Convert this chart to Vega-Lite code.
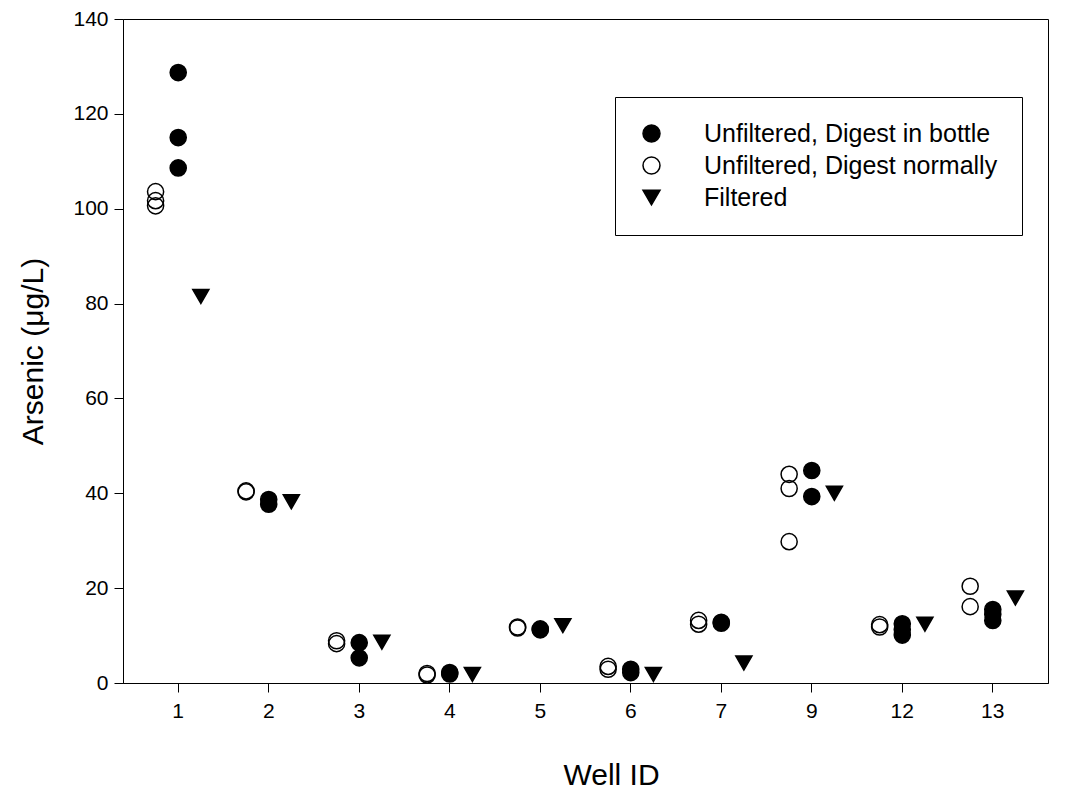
{
  "$schema": "https://vega.github.io/schema/vega-lite/v6.json",
  "autosize": {"type": "none"},
  "width": 925,
  "height": 664,
  "padding": {"left": 123, "top": 19, "right": 27, "bottom": 110},
  "background": "white",
  "config": {
    "font": "Liberation Sans",
    "view": {"stroke": "black", "strokeWidth": 1},
    "axis": {
      "grid": false,
      "domainColor": "black",
      "tickColor": "black",
      "labelColor": "black",
      "titleColor": "black",
      "labelFont": "Liberation Sans",
      "titleFont": "Liberation Sans",
      "labelFontSize": 21,
      "titleFontSize": 30,
      "titleFontWeight": "normal",
      "tickSize": 9
    },
    "legend": {
      "labelFont": "Liberation Sans",
      "labelFontSize": 25,
      "labelColor": "black"
    }
  },
  "data": {
    "values": [
      {"well": "1", "series": "Unfiltered, Digest in bottle", "value": 128.7},
      {"well": "1", "series": "Unfiltered, Digest in bottle", "value": 115.0},
      {"well": "1", "series": "Unfiltered, Digest in bottle", "value": 108.6},
      {"well": "1", "series": "Unfiltered, Digest normally", "value": 103.6},
      {"well": "1", "series": "Unfiltered, Digest normally", "value": 101.7},
      {"well": "1", "series": "Unfiltered, Digest normally", "value": 100.6},
      {"well": "1", "series": "Filtered", "value": 81.5},
      {"well": "2", "series": "Unfiltered, Digest normally", "value": 40.5},
      {"well": "2", "series": "Unfiltered, Digest normally", "value": 40.3},
      {"well": "2", "series": "Unfiltered, Digest in bottle", "value": 38.7},
      {"well": "2", "series": "Unfiltered, Digest in bottle", "value": 37.7},
      {"well": "2", "series": "Filtered", "value": 38.2},
      {"well": "3", "series": "Unfiltered, Digest normally", "value": 8.9},
      {"well": "3", "series": "Unfiltered, Digest normally", "value": 8.3},
      {"well": "3", "series": "Unfiltered, Digest in bottle", "value": 8.5},
      {"well": "3", "series": "Unfiltered, Digest in bottle", "value": 5.3},
      {"well": "3", "series": "Filtered", "value": 8.6},
      {"well": "4", "series": "Unfiltered, Digest normally", "value": 2.0},
      {"well": "4", "series": "Unfiltered, Digest normally", "value": 1.7},
      {"well": "4", "series": "Unfiltered, Digest in bottle", "value": 2.2},
      {"well": "4", "series": "Unfiltered, Digest in bottle", "value": 1.9},
      {"well": "4", "series": "Filtered", "value": 1.8},
      {"well": "5", "series": "Unfiltered, Digest normally", "value": 11.8},
      {"well": "5", "series": "Unfiltered, Digest normally", "value": 11.6},
      {"well": "5", "series": "Unfiltered, Digest in bottle", "value": 11.2},
      {"well": "5", "series": "Unfiltered, Digest in bottle", "value": 11.4},
      {"well": "5", "series": "Filtered", "value": 12.1},
      {"well": "6", "series": "Unfiltered, Digest normally", "value": 3.5},
      {"well": "6", "series": "Unfiltered, Digest normally", "value": 2.9},
      {"well": "6", "series": "Unfiltered, Digest in bottle", "value": 2.9},
      {"well": "6", "series": "Unfiltered, Digest in bottle", "value": 2.2},
      {"well": "6", "series": "Filtered", "value": 1.8},
      {"well": "7", "series": "Unfiltered, Digest normally", "value": 13.2},
      {"well": "7", "series": "Unfiltered, Digest normally", "value": 12.4},
      {"well": "7", "series": "Unfiltered, Digest in bottle", "value": 12.8},
      {"well": "7", "series": "Unfiltered, Digest in bottle", "value": 12.6},
      {"well": "7", "series": "Filtered", "value": 4.2},
      {"well": "9", "series": "Unfiltered, Digest normally", "value": 44.0},
      {"well": "9", "series": "Unfiltered, Digest normally", "value": 41.0},
      {"well": "9", "series": "Unfiltered, Digest normally", "value": 29.8},
      {"well": "9", "series": "Unfiltered, Digest in bottle", "value": 44.8},
      {"well": "9", "series": "Unfiltered, Digest in bottle", "value": 39.3},
      {"well": "9", "series": "Filtered", "value": 40.0},
      {"well": "12", "series": "Unfiltered, Digest normally", "value": 12.3},
      {"well": "12", "series": "Unfiltered, Digest normally", "value": 11.8},
      {"well": "12", "series": "Unfiltered, Digest in bottle", "value": 12.5},
      {"well": "12", "series": "Unfiltered, Digest in bottle", "value": 11.3},
      {"well": "12", "series": "Unfiltered, Digest in bottle", "value": 10.1},
      {"well": "12", "series": "Filtered", "value": 12.4},
      {"well": "13", "series": "Unfiltered, Digest normally", "value": 20.4},
      {"well": "13", "series": "Unfiltered, Digest normally", "value": 16.1},
      {"well": "13", "series": "Unfiltered, Digest in bottle", "value": 15.5},
      {"well": "13", "series": "Unfiltered, Digest in bottle", "value": 14.5},
      {"well": "13", "series": "Unfiltered, Digest in bottle", "value": 13.2},
      {"well": "13", "series": "Filtered", "value": 17.9}
    ]
  },
  "mark": {"type": "point", "filled": false, "strokeWidth": 1.5, "opacity": 1, "size": 260},
  "encoding": {
    "x": {
      "field": "well",
      "type": "nominal",
      "scale": {"type": "band", "domain": ["1", "2", "3", "4", "5", "6", "7", "9", "12", "13"], "paddingInner": 0, "paddingOuter": 0.11},
      "axis": {"title": "Well ID", "labelAngle": 0, "labelPadding": 8, "titlePadding": 39, "titleX": 488}
    },
    "xOffset": {
      "field": "series",
      "type": "nominal",
      "scale": {"domain": ["Unfiltered, Digest normally", "Unfiltered, Digest in bottle", "Filtered"], "paddingInner": 0, "paddingOuter": 1.14}
    },
    "y": {
      "field": "value",
      "type": "quantitative",
      "scale": {"domain": [0, 140], "nice": false, "zero": true},
      "axis": {"title": "Arsenic (μg/L)", "values": [0, 20, 40, 60, 80, 100, 120, 140], "labelPadding": 6, "titlePadding": 24}
    },
    "shape": {
      "field": "series",
      "type": "nominal",
      "scale": {"domain": ["Unfiltered, Digest in bottle", "Unfiltered, Digest normally", "Filtered"], "range": ["circle", "circle", "triangle-down"]},
      "legend": {
        "title": null,
        "orient": "none",
        "legendX": 492,
        "legendY": 78,
        "strokeColor": "black",
        "padding": 24,
        "rowPadding": 6,
        "labelOffset": 40,
        "symbolSize": 289,
        "symbolStrokeWidth": 1.5,
        "labelLimit": 500
      }
    },
    "fill": {
      "field": "series",
      "type": "nominal",
      "scale": {"domain": ["Unfiltered, Digest in bottle", "Unfiltered, Digest normally", "Filtered"], "range": ["black", "transparent", "black"]},
      "legend": {
        "title": null,
        "orient": "none",
        "legendX": 492,
        "legendY": 78,
        "strokeColor": "black",
        "padding": 24,
        "rowPadding": 6,
        "labelOffset": 40,
        "symbolSize": 289,
        "symbolStrokeWidth": 1.5,
        "labelLimit": 500
      }
    },
    "stroke": {
      "field": "series",
      "type": "nominal",
      "scale": {"domain": ["Unfiltered, Digest in bottle", "Unfiltered, Digest normally", "Filtered"], "range": ["black", "black", "black"]},
      "legend": {
        "title": null,
        "orient": "none",
        "legendX": 492,
        "legendY": 78,
        "strokeColor": "black",
        "padding": 24,
        "rowPadding": 6,
        "labelOffset": 40,
        "symbolSize": 289,
        "symbolStrokeWidth": 1.5,
        "labelLimit": 500
      }
    }
  }
}
